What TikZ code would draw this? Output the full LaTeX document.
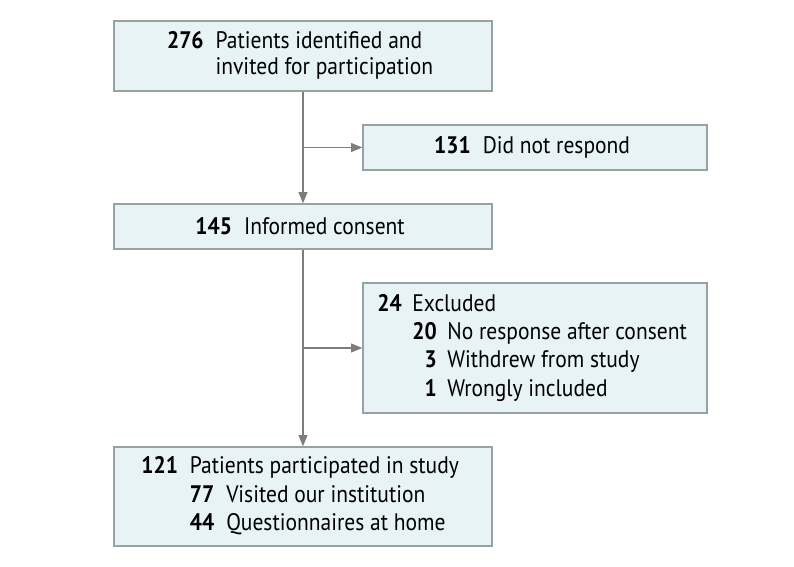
\documentclass[tikz,border=0pt]{standalone}
\usepackage{fontspec}
\setmainfont{PT Sans}[FakeStretch=0.9]
\usetikzlibrary{positioning, arrows.meta, calc}
\definecolor{flowfill}{RGB}{231, 243, 244}
\definecolor{flowedge}{RGB}{150, 162, 163}
\definecolor{flowline}{RGB}{125, 125, 125}

\newcommand{\cnt}[1]{\textbf{#1}}

\begin{document}
\begin{tikzpicture}[
        flowbox/.style={draw=flowedge, fill=flowfill, line width=0.9pt,
            align=center, inner sep=0pt,
            font=\fontsize{17}{20.2}\selectfont},
        arr/.style={-{Triangle[length=2.8mm, width=2.2mm]}, line width=1pt, flowline}
    ]
    \useasboundingbox (0,0) rectangle (19.85,-14.175);

    \node[flowbox, minimum width=9.45cm, minimum height=1.75cm] (identified) at (7.575, -1.4) {
        \begin{tabular}{@{}r@{\hspace{8.5pt}}l@{}}
        \cnt{276} & Patients identified and\\[-1.4pt]
                  & invited for participation
        \end{tabular}
    };

    \node[flowbox, minimum width=8.6cm, minimum height=1.125cm] (noresp) at (13.375, -3.6875) {
        \cnt{131}\hspace{8.5pt}Did not respond
    };

    \node[flowbox, minimum width=9.45cm, minimum height=1.125cm] (consent) at (7.575, -5.6625) {
        \cnt{145}\hspace{8.5pt}Informed consent
    };

    \node[flowbox, minimum width=8.6cm, minimum height=3.25cm] (excluded) at (13.375, -8.7) {
        \begin{tabular}{@{}r@{\hspace{7.5pt}}r@{\hspace{7.5pt}}l@{}}
        \cnt{24} & \multicolumn{2}{@{}l@{}}{Excluded}\\
                 & \cnt{20} & No response after consent\\
                 & \cnt{3}  & Withdrew from study\\
                 & \cnt{1}  & Wrongly included
        \end{tabular}
    };

    \node[flowbox, minimum width=9.45cm, minimum height=2.475cm] (participated) at (7.575, -12.4125) {
        \begin{tabular}{@{}r@{\hspace{8.5pt}}r@{\hspace{8.5pt}}l@{}}
        \cnt{121} & \multicolumn{2}{@{}l@{}}{Patients participated in study}\\
                  & \cnt{77} & Visited our institution\\
                  & \cnt{44} & Questionnaires at home
        \end{tabular}
    };

    \draw[arr] (identified.south) -- (consent.north);
    \draw[arr] (identified.south |- noresp.west) -- (noresp.west);
    \draw[arr] (consent.south) -- (participated.north);
    \draw[arr] (consent.south |- excluded.west) -- (excluded.west);

\end{tikzpicture}
\end{document}
